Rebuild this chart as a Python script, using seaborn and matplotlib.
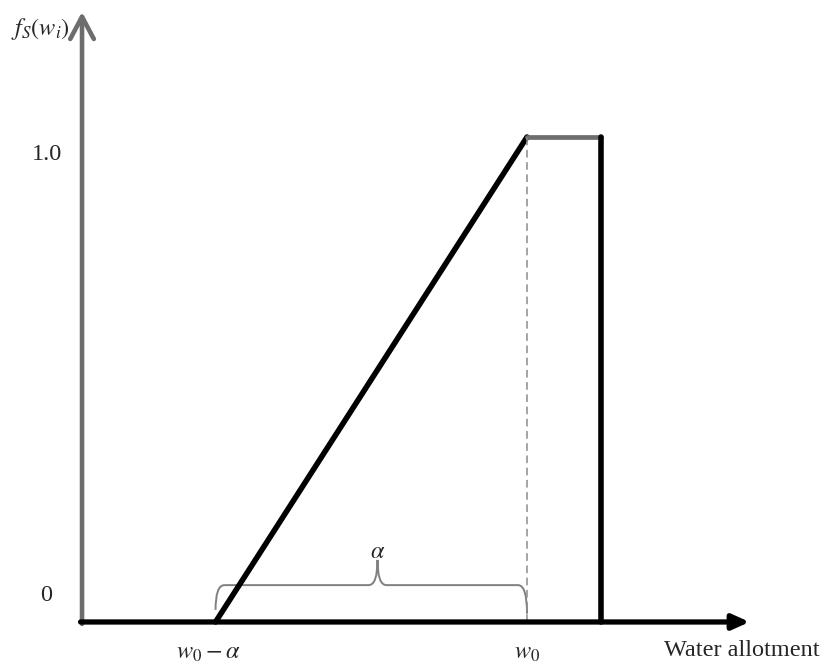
import numpy as np
import pandas as pd
import matplotlib.pyplot as plt
import seaborn as sns
from matplotlib.path import Path
from matplotlib.patches import PathPatch

# Dados do gráfico (função de satisfação por alocação de água)
w0 = 6.0
alpha = 4.2
w_cap = 7.0
x_end = 9.0
y_top = 1.258

rampa_x = [w0 - alpha, w0]
rampa_y = [0.0, 1.0]
topo_x = [w0, w_cap]
topo_y = [1.0, 1.0]
queda_x = [w_cap, w_cap]
queda_y = [0.0, 1.0]

sns.set_style("white")
plt.rcParams['font.family'] = ['Liberation Serif', 'DejaVu Serif']
plt.rcParams['mathtext.fontset'] = 'stix'

fig = plt.figure(figsize=(8.24, 6.65), dpi=100)
ax = fig.add_axes([0, 0, 1, 1])
ax.set_xlim(-1.106, 10.004)
ax.set_ylim(-0.0887, 1.2825)
ax.axis("off")

cinza = "#6d6d70"

# eixos com setas
ax.annotate("", xy=(0, y_top), xytext=(0, -0.004),
            arrowprops=dict(arrowstyle="->,head_length=1.6,head_width=0.85",
                            color=cinza, lw=3.3, shrinkA=0, shrinkB=0))
ax.annotate("", xy=(x_end, 0), xytext=(-0.02, 0),
            arrowprops=dict(arrowstyle="-|>,head_length=1.0,head_width=0.45",
                            color="black", lw=3.8, shrinkA=0, shrinkB=0))

# linhas da função
kw = dict(ax=ax, estimator=None, sort=False)
sns.lineplot(x=rampa_x, y=rampa_y, color="black", lw=4.0, **kw)
sns.lineplot(x=topo_x, y=topo_y, color=cinza, lw=3.4, **kw)
sns.lineplot(x=queda_x, y=queda_y, color="black", lw=4.0, **kw)
ax.plot([w0, w0], [0, 1], color="#8c8c8c", lw=1.1, ls=(0, (5, 3)))

# chave (brace) do alfa
xl, xr = w0 - alpha, w0
xm = xl + 0.52 * alpha
yb, yh, yt = 0.025, 0.076, 0.128
r = 0.12
verts = [(xl, yb), (xl, yh), (xl + r, yh),
         (xm - r, yh), (xm, yh), (xm, yt),
         (xm, yt), (xm, yh), (xm + r, yh),
         (xr - r, yh), (xr, yh), (xr, yb - 0.008)]
codes = [Path.MOVETO, Path.CURVE3, Path.CURVE3,
         Path.LINETO, Path.CURVE3, Path.CURVE3,
         Path.MOVETO, Path.CURVE3, Path.CURVE3,
         Path.LINETO, Path.CURVE3, Path.CURVE3]
ax.add_patch(PathPatch(Path(verts, codes), fill=False, ec="#808080", lw=1.4))

fs = 17.5
ax.text(xm, 0.143, r"$\alpha$", ha="center", va="center", fontsize=fs)
ax.text(-0.16, 1.222, r"$f_S(w_i)$", ha="right", va="center", fontsize=fs)
ax.text(-0.27, 0.963, "1.0", ha="right", va="center", fontsize=fs)
ax.text(-0.40, 0.055, "0", ha="right", va="center", fontsize=fs)
ax.text(w0 - alpha - 0.1, -0.064, r"$w_0 - \alpha$", ha="center", va="center", fontsize=fs)
ax.text(w0, -0.064, r"$w_0$", ha="center", va="center", fontsize=fs)
ax.text(9.95, -0.058, "Water allotment", ha="right", va="center", fontsize=fs)

plt.savefig("out.png", dpi=100)
